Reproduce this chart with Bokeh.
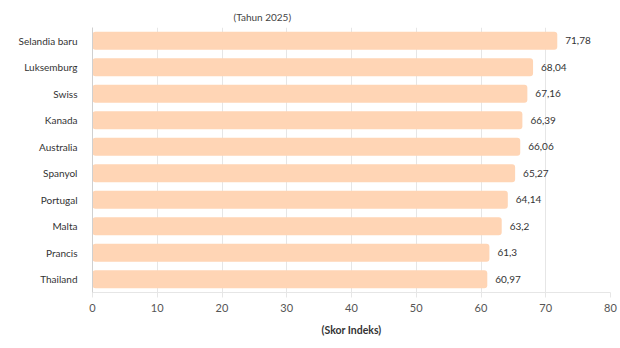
from bokeh.plotting import figure
from bokeh.models import ColumnDataSource, FactorRange, Title, FixedTicker, LabelSet
from bokeh.core.properties import value
from bokeh.embed import file_html
from bokeh.resources import INLINE

countries = ["Selandia baru", "Luksemburg", "Swiss", "Kanada", "Australia",
             "Spanyol", "Portugal", "Malta", "Prancis", "Thailand"]
scores = [71.78, 68.04, 67.16, 66.39, 66.06, 65.27, 64.14, 63.2, 61.3, 60.97]
score_labels = ["71,78", "68,04", "67,16", "66,39", "66,06", "65,27", "64,14", "63,2", "61,3", "60,97"]
x_ticks = [0, 10, 20, 30, 40, 50, 60, 70, 80]

FONT = "Lato"

src = ColumnDataSource(dict(country=countries, score=scores, label=score_labels))

p = figure(width=620, height=348, output_backend="svg", toolbar_location=None,
           y_range=FactorRange(*list(reversed(countries)), range_padding=0.0),
           x_range=(0, 80),
           min_border_left=92, min_border_right=10, min_border_top=27, min_border_bottom=56)

p.add_layout(Title(text="(Tahun 2025)", align="left", offset=141, text_font=FONT,
                   text_font_size="10px", text_font_style="normal", text_color="#444444",
                   standoff=10), "above")

p.hbar(y="country", right="score", left=0, height=0.68, source=src,
       fill_color="#FFD5B5", line_color=None, border_radius=3)

labels = LabelSet(x="score", y="country", text="label", source=src, x_offset=8,
                  text_font=value(FONT), text_font_size=value("10px"), text_color="#333333",
                  text_baseline="middle", text_align="left")
p.add_layout(labels)

p.outline_line_color = None
p.xgrid.grid_line_color = "#e6e6e6"
p.ygrid.grid_line_color = None
p.xaxis.ticker = FixedTicker(ticks=x_ticks)
p.xaxis.axis_line_color = "#e6e6e6"
p.xaxis.major_tick_line_color = "#e6e6e6"
p.xaxis.major_tick_out = 5
p.xaxis.major_tick_in = 0
p.xaxis.minor_tick_line_color = None
p.xaxis.major_label_text_font = FONT
p.xaxis.major_label_text_font_size = "11px"
p.xaxis.major_label_text_color = "#555555"
p.xaxis.major_label_standoff = 6
p.xaxis.axis_label = "(Skor Indeks)"
p.xaxis.axis_label_text_font = FONT
p.xaxis.axis_label_text_font_size = "10.5px"
p.xaxis.axis_label_text_font_style = "bold"
p.xaxis.axis_label_text_color = "#333333"
p.xaxis.axis_label_standoff = 9

p.yaxis.axis_line_color = "#d0d0d0"
p.yaxis.major_tick_line_color = None
p.yaxis.minor_tick_line_color = None
p.yaxis.major_label_text_font = FONT
p.yaxis.major_label_text_font_size = "10px"
p.yaxis.major_label_text_color = "#333333"
p.yaxis.major_label_standoff = 9

p.background_fill_color = "white"
p.border_fill_color = "white"

open("out.html", "w").write(file_html(p, INLINE))
